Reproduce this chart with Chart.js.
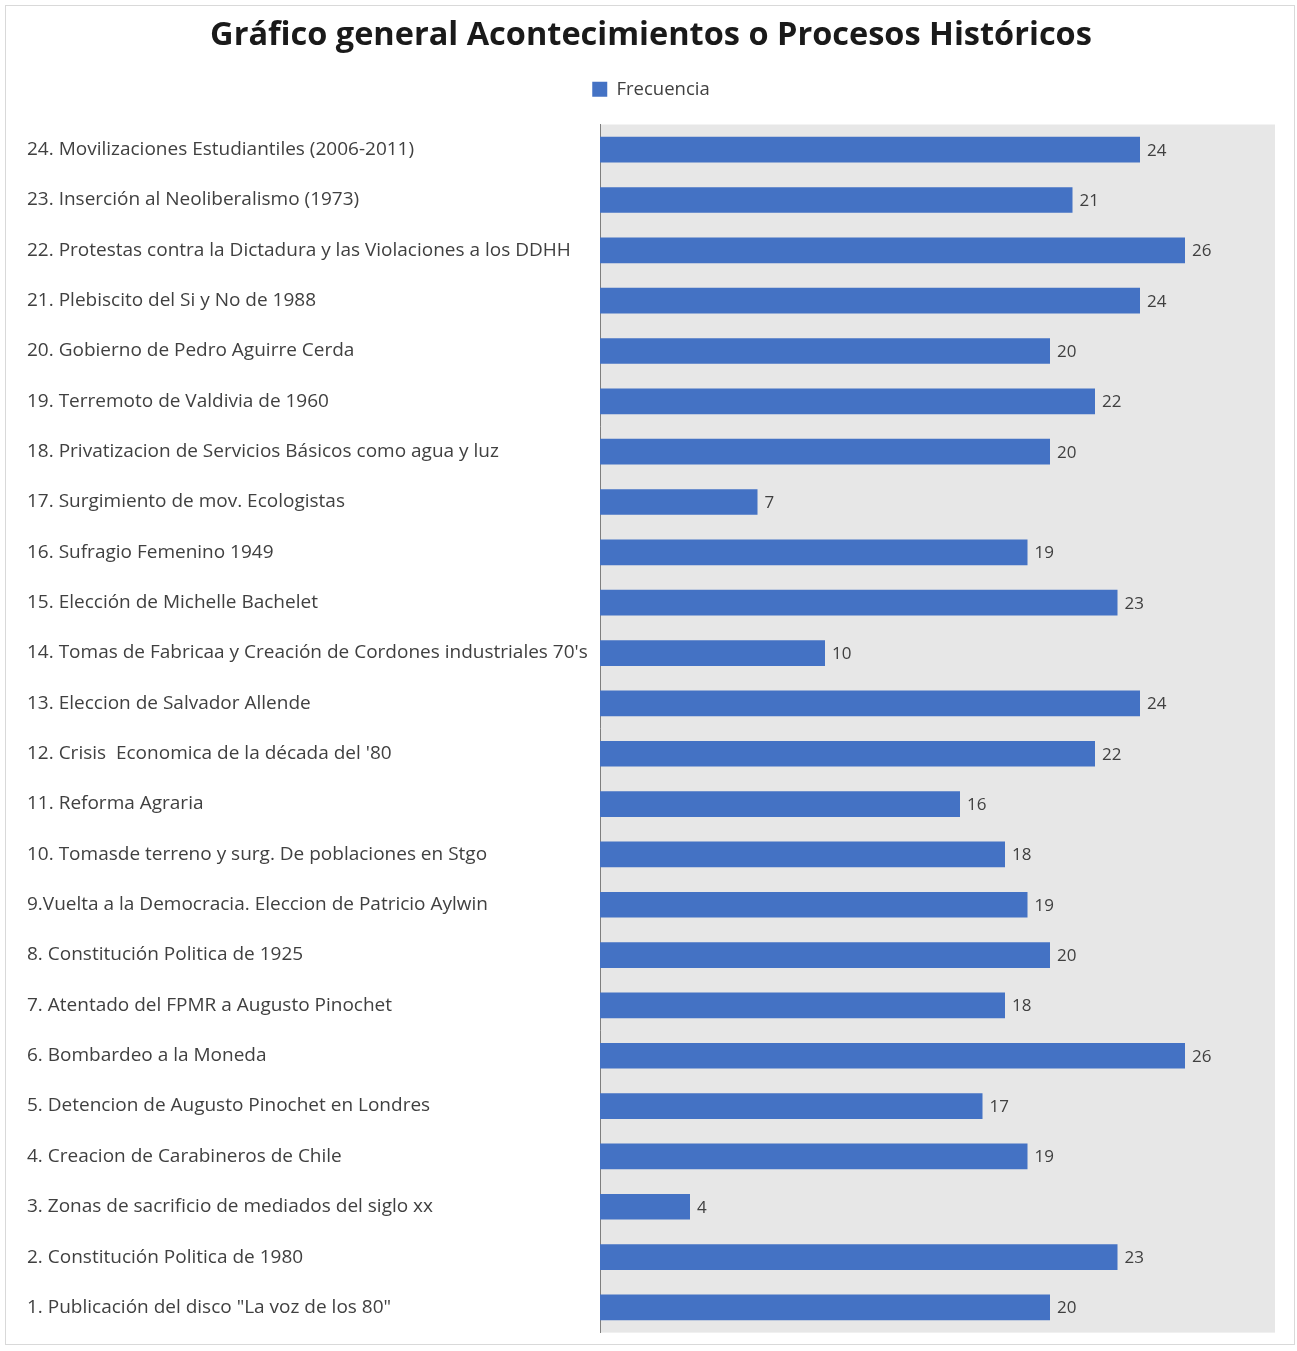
<!DOCTYPE html>
<html><head><meta charset="utf-8">
<script src="https://cdn.jsdelivr.net/npm/chart.js@4.4.1/dist/chart.umd.min.js"></script>
<style>
html,body{margin:0;padding:0;background:#fff;}
#frame{position:absolute;left:5px;top:5px;width:1288px;height:1338px;border:1px solid #d9d9d9;}
#wrap{position:absolute;left:0;top:0;width:1288px;height:1338px;}
</style></head>
<body>
<div id="frame"><div id="wrap"><canvas id="c"></canvas></div></div>
<script>
const categories = [
  "24. Movilizaciones Estudiantiles (2006-2011)",
  "23. Inserción al Neoliberalismo (1973)",
  "22. Protestas contra la Dictadura y las Violaciones a los DDHH",
  "21. Plebiscito del Si y No de 1988",
  "20. Gobierno de Pedro Aguirre Cerda",
  "19. Terremoto de Valdivia de 1960",
  "18. Privatizacion de Servicios Básicos como agua y luz",
  "17. Surgimiento de mov. Ecologistas",
  "16. Sufragio Femenino 1949",
  "15. Elección de Michelle Bachelet",
  "14. Tomas de Fabricaa y Creación de Cordones industriales 70's",
  "13. Eleccion de Salvador Allende",
  "12. Crisis  Economica de la década del '80",
  "11. Reforma Agraria",
  "10. Tomasde terreno y surg. De poblaciones en Stgo",
  "9.Vuelta a la Democracia. Eleccion de Patricio Aylwin",
  "8. Constitución Politica de 1925",
  "7. Atentado del FPMR a Augusto Pinochet",
  "6. Bombardeo a la Moneda",
  "5. Detencion de Augusto Pinochet en Londres",
  "4. Creacion de Carabineros de Chile",
  "3. Zonas de sacrificio de mediados del siglo xx",
  "2. Constitución Politica de 1980",
  "1. Publicación del disco \"La voz de los 80\""
];
const frecuencia = [24,21,26,24,20,22,20,7,19,23,10,24,22,16,18,19,20,18,26,17,19,4,23,20];
const seriesName = "Frecuencia";
const titleText = "Gráfico general Acontecimientos o Procesos Históricos";
const xMin = 0, xMax = 30;

const FONT = "'Open Sans', 'DejaVu Sans', sans-serif";

const plotBg = {
  id: 'plotBg',
  beforeDraw(chart){
    const {ctx, chartArea:a} = chart;
    ctx.save();
    ctx.fillStyle = '#e7e7e7';
    ctx.fillRect(a.left, a.top, a.right-a.left, a.bottom-a.top);
    ctx.restore();
  }
};
const legendGap = {
  id: 'legendGap',
  beforeInit(chart){
    const orig = chart.legend.fit;
    chart.legend.fit = function(){ orig.call(this); this.height += 16; };
  }
};
const valueLabels = {
  id: 'valueLabels',
  afterDatasetsDraw(chart){
    const {ctx} = chart;
    const meta = chart.getDatasetMeta(0);
    ctx.save();
    ctx.font = "17px " + FONT;
    ctx.fillStyle = '#404040';
    ctx.textBaseline = 'middle';
    ctx.textAlign = 'left';
    meta.data.forEach((bar, i) => {
      ctx.fillText(String(chart.data.datasets[0].data[i]), bar.x + 7, bar.y + 1);
    });
    ctx.restore();
  }
};

new Chart(document.getElementById('c'), {
  type: 'bar',
  data: {
    labels: categories,
    datasets: [{
      label: seriesName,
      data: frecuencia,
      backgroundColor: '#4472c4',
      borderWidth: 0,
      barPercentage: 0.51,
      categoryPercentage: 1.0
    }]
  },
  options: {
    indexAxis: 'y',
    responsive: true,
    maintainAspectRatio: false,
    animation: false,
    layout: { padding: { left: 21, right: 19, top: 8, bottom: 8 } },
    plugins: {
      title: {
        display: true, text: titleText, color: '#1a1a1a',
        font: { family: FONT, size: 32.5, weight: 'bold' },
        padding: { top: 2, bottom: 15 }
      },
      legend: {
        display: true, position: 'top',
        labels: {
          color: '#404040', font: { family: FONT, size: 18.5 },
          boxWidth: 15, boxHeight: 15, padding: 10
        }
      },
      tooltip: { enabled: false }
    },
    scales: {
      x: {
        display: false, min: xMin, max: xMax,
        grid: { display: false }
      },
      y: {
        grid: { display: false, drawTicks: false },
        border: { display: true, color: '#7f7f7f', width: 1 },
        ticks: {
          color: '#404040', font: { family: FONT, size: 19 },
          crossAlign: 'far', padding: 0, autoSkip: false
        },
        afterFit(scale){ scale.width = 573; }
      }
    }
  },
  plugins: [plotBg, legendGap, valueLabels]
});
</script>
</body></html>
